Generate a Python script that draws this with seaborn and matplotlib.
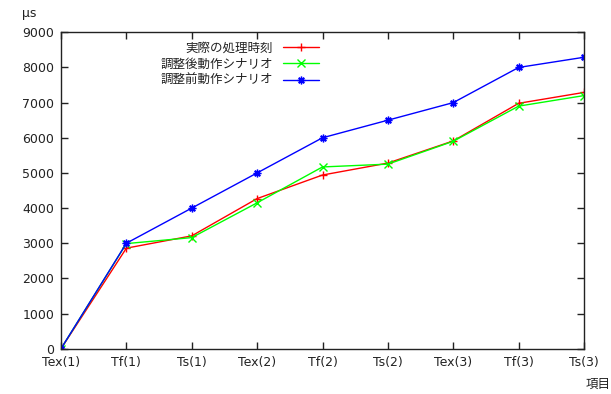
import pandas as pd
import seaborn as sns
import matplotlib.pyplot as plt

# データ
items = ['Tex(1)', 'Tf(1)', 'Ts(1)', 'Tex(2)', 'Tf(2)', 'Ts(2)', 'Tex(3)', 'Tf(3)', 'Ts(3)']
actual = [0, 2860, 3210, 4270, 4940, 5280, 5910, 6980, 7290]
after_scenario = [0, 2990, 3160, 4150, 5170, 5250, 5900, 6900, 7200]
before_scenario = [0, 3000, 4000, 5000, 6000, 6500, 7000, 8000, 8290]
series_names = ['実際の処理時刻', '調整後動作シナリオ', '調整前動作シナリオ']

rows = []
for name, vals in zip(series_names, [actual, after_scenario, before_scenario]):
    for i, v in enumerate(vals):
        rows.append({'idx': i, 'value': v, 'series': name})
df = pd.DataFrame(rows)

sns.set_theme(style='ticks')
plt.rcParams['font.family'] = ['DejaVu Sans', 'Noto Sans CJK JP']
plt.rcParams['xtick.direction'] = 'in'
plt.rcParams['ytick.direction'] = 'in'
jp_font = ['Noto Sans CJK JP', 'DejaVu Sans']

fig = plt.figure(figsize=(6.11, 3.94), dpi=100)
ax = fig.add_axes([61 / 611, 1 - 348.7 / 394, 523 / 611, 316.4 / 394])

palette = {series_names[0]: '#ff0000', series_names[1]: '#00ff00', series_names[2]: '#0000ff'}
markers = {series_names[0]: '+', series_names[1]: 'x', series_names[2]: (8, 2, 0)}

sns.lineplot(data=df, x='idx', y='value', hue='series', style='series',
             palette=palette, markers=markers, dashes=False, linewidth=1,
             markersize=5.5, markeredgewidth=1, ax=ax)

# gnuplot風: マーカーの縁を線と同じ色に
for line in ax.lines:
    line.set_markeredgecolor(line.get_color())

ax.set_xlim(0, len(items) - 1)
ax.set_ylim(0, 9000)
ax.set_xticks(range(len(items)))
ax.set_xticklabels(items)
ax.set_yticks(range(0, 9001, 1000))
ax.tick_params(axis='both', labelsize=9, length=5, width=1, colors='#222222',
               top=True, right=True, pad=5)
for s in ax.spines.values():
    s.set_linewidth(1)
    s.set_color('#222222')
ax.set_xlabel('')
ax.set_ylabel('')

fig.text(22 / 611, 1 - 14 / 394, 'μs', fontsize=9, ha='left', va='center', color='#222222')
fig.text(598 / 611, 1 - 384 / 394, '項目', fontsize=9, ha='center', va='center',
         family=jp_font, color='#222222')

handles, labels = ax.get_legend_handles_labels()
for h in handles:
    h.set_markeredgecolor(h.get_color())
    h.set_markersize(5.5)
leg = ax.legend(handles, labels, loc='upper right', bbox_to_anchor=(0.51, 0.998),
                frameon=False, markerfirst=False, fontsize=9, handlelength=2.9,
                labelspacing=0.25, borderpad=0.2, handletextpad=0.8)
for t in leg.get_texts():
    t.set_family(jp_font)
    t.set_color('#222222')

plt.savefig('out.png', dpi=100)
plt.close()
